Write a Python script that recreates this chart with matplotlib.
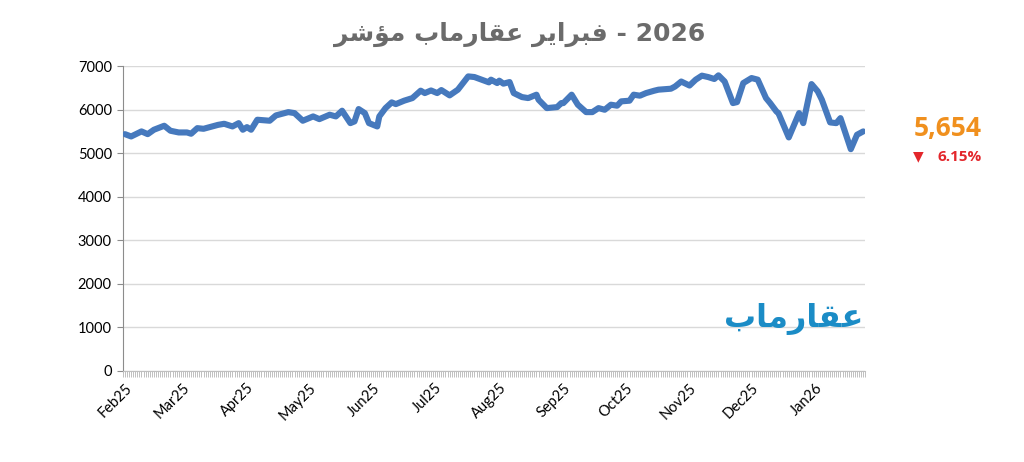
import pandas as pd
import matplotlib
matplotlib.use("Agg")
import matplotlib.pyplot as plt
import matplotlib.dates as mdates

# Index readings taken off the reference chart
dates = [
    "2025-02-01", "2025-02-04", "2025-02-09", "2025-02-12", "2025-02-15", "2025-02-20",
    "2025-02-23", "2025-02-27", "2025-03-03", "2025-03-05", "2025-03-08", "2025-03-11",
    "2025-03-18", "2025-03-21", "2025-03-25", "2025-03-28", "2025-03-30", "2025-04-01",
    "2025-04-03", "2025-04-06", "2025-04-12", "2025-04-15", "2025-04-21", "2025-04-24",
    "2025-04-28", "2025-05-03", "2025-05-06", "2025-05-11", "2025-05-14", "2025-05-17",
    "2025-05-21", "2025-05-23", "2025-05-25", "2025-05-28", "2025-05-30", "2025-06-03",
    "2025-06-04", "2025-06-07", "2025-06-10", "2025-06-12", "2025-06-16", "2025-06-20",
    "2025-06-24", "2025-06-26", "2025-06-29", "2025-07-02", "2025-07-04", "2025-07-08",
    "2025-07-12", "2025-07-17", "2025-07-20", "2025-07-27", "2025-07-28", "2025-07-31",
    "2025-08-01", "2025-08-03", "2025-08-06", "2025-08-08", "2025-08-12", "2025-08-15",
    "2025-08-19", "2025-08-20", "2025-08-24", "2025-08-29", "2025-08-31", "2025-09-01",
    "2025-09-05", "2025-09-08", "2025-09-12", "2025-09-15", "2025-09-18", "2025-09-21",
    "2025-09-24", "2025-09-27", "2025-09-29", "2025-10-03", "2025-10-05", "2025-10-08",
    "2025-10-11", "2025-10-15", "2025-10-17", "2025-10-23", "2025-10-25", "2025-10-28",
    "2025-11-01", "2025-11-04", "2025-11-07", "2025-11-10", "2025-11-13", "2025-11-15",
    "2025-11-18", "2025-11-22", "2025-11-24", "2025-11-27", "2025-12-01", "2025-12-04",
    "2025-12-08", "2025-12-10", "2025-12-13", "2025-12-14", "2025-12-19", "2025-12-24",
    "2025-12-26", "2025-12-30", "2026-01-02", "2026-01-04", "2026-01-08", "2026-01-11",
    "2026-01-13", "2026-01-18", "2026-01-21", "2026-01-24",
]
values = [
    5437, 5384, 5500, 5437, 5538, 5630,
    5515, 5476, 5476, 5446, 5575, 5560,
    5650, 5675, 5614, 5690, 5538, 5598,
    5538, 5768, 5745, 5867, 5943, 5920,
    5745, 5844, 5782, 5883, 5844, 5975,
    5690, 5729, 6013, 5920, 5690, 5614,
    5844, 6035, 6166, 6127, 6205, 6265,
    6435, 6380, 6440, 6380, 6449, 6327,
    6458, 6763, 6748, 6626, 6688, 6610,
    6665, 6596, 6633, 6380, 6288, 6265,
    6343, 6228, 6035, 6058, 6150, 6150,
    6343, 6113, 5943, 5943, 6035, 5997,
    6113, 6090, 6190, 6205, 6343, 6320,
    6380, 6435, 6458, 6480, 6530, 6645,
    6553, 6688, 6780, 6748, 6703, 6787,
    6645, 6150, 6173, 6610, 6725, 6688,
    6265, 6150, 5959, 5920, 5362, 5920,
    5690, 6587, 6420, 6228, 5706, 5690,
    5805, 5092, 5423, 5500,
]
y_ticks = [0, 1000, 2000, 3000, 4000, 5000, 6000, 7000]

last_value = "5,654"
change = "6.15%"

# Arabic text written in presentation forms, visual order (matplotlib has no shaping)
w_index = "\uFEAE\uFEB7\uFE86\uFEE3"                      # مؤشر
w_brand = "\uFE8F\uFE8E\uFEE3\uFEAD\uFE8E\uFED8\uFECB"    # عقارماب
w_month = "\uFEAE\uFEF3\uFE8D\uFEAE\uFE92\uFED3"          # فبراير
title = f"{w_index} {w_brand} {w_month} - 2026"

df = pd.DataFrame({"date": pd.to_datetime(dates), "value": values})

fig = plt.figure(figsize=(10.24, 4.62), dpi=100)
ax = fig.add_axes([0.120, 0.197, 0.725, 0.660])

ax.plot(df["date"], df["value"], color="#4679BD", linewidth=4.4,
        solid_joinstyle="round", solid_capstyle="round", zorder=3)

ax.set_ylim(0, 7000)
ax.set_yticks(y_ticks)
ax.set_xlim(pd.Timestamp("2025-01-31"), pd.Timestamp("2026-01-25"))

ax.grid(axis="y", color="#d9d9d9", linewidth=1)
ax.set_axisbelow(True)
for s in ["top", "right"]:
    ax.spines[s].set_visible(False)
ax.spines["left"].set_color("#8c8c8c")
ax.spines["bottom"].set_color("#bfbfbf")

ax.xaxis.set_major_locator(mdates.MonthLocator())
ax.xaxis.set_major_formatter(mdates.DateFormatter("%b%y"))
ax.xaxis.set_minor_locator(mdates.DayLocator())
ax.tick_params(axis="x", which="both", length=4, width=0.5, color="#a6a6a6", pad=3)
ax.tick_params(axis="y", length=4, width=0.8, color="#8c8c8c", labelsize=10.5, pad=4)

for lbl in ax.get_yticklabels():
    lbl.set_family("Lato")
for lbl in ax.get_xticklabels():
    lbl.set_rotation(45)
    lbl.set_ha("right")
    lbl.set_rotation_mode("anchor")
    lbl.set_family("Lato")
    lbl.set_fontsize(10.5)

fig.text(0.507, 0.925, title, ha="center", va="center", fontsize=18,
         fontweight="bold", color="#6b6b6b", family="DejaVu Sans")

# logo
ax.text(0.998, 0.17, w_brand, transform=ax.transAxes, ha="right", va="center",
        fontsize=23, fontweight="bold", color="#1B8CC6", family="DejaVu Sans")

# last value and change
fig.text(0.925, 0.722, last_value, ha="center", va="center", fontsize=19,
         fontweight="bold", color="#F0901E", family="Open Sans")
fig.text(0.897, 0.661, "\u25BC", ha="center", va="center", fontsize=10,
         color="#E3262B", family="DejaVu Sans")
fig.text(0.937, 0.661, change, ha="center", va="center", fontsize=11,
         fontweight="bold", color="#E3262B", family="Open Sans")

fig.savefig("out.png", dpi=100)
